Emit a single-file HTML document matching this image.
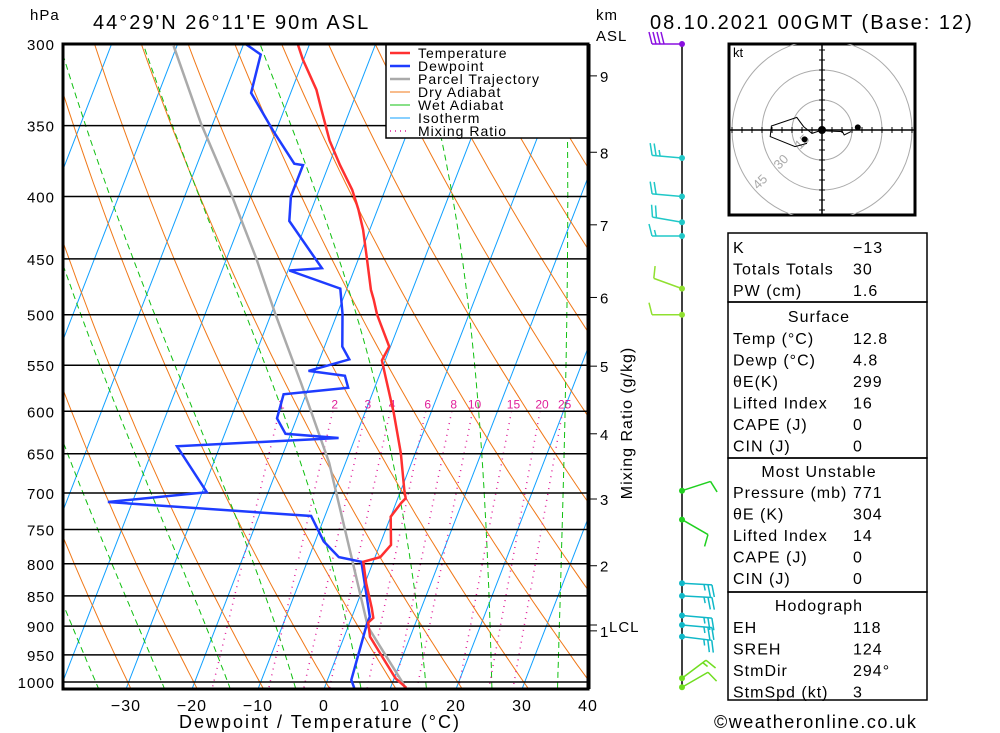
<!DOCTYPE html>
<html><head><meta charset="utf-8"><style>
html,body{margin:0;padding:0;background:#fff;}
svg{display:block;font-family:"Liberation Sans",sans-serif;}
text{fill:#000;}
</style></head><body>
<svg id="chart" width="1000" height="733" viewBox="0 0 1000 733" xmlns="http://www.w3.org/2000/svg">
<defs><clipPath id="plotclip"><rect x="63" y="44" width="525" height="645"/></clipPath>
<clipPath id="hodoclip"><rect x="729" y="44" width="186" height="171"/></clipPath></defs>
<g id="bg" clip-path="url(#plotclip)"></g>
<g id="grid"></g>
<g id="series" clip-path="url(#plotclip)"></g>
<g>
<rect x="386" y="44" width="202" height="94" fill="#fff" stroke="#000" stroke-width="1.5"/>
<line x1="390" y1="53" x2="410" y2="53" stroke="#ff3030" stroke-width="2.5"/><text x="418" y="58" font-size="14" letter-spacing="1">Temperature</text>
<line x1="390" y1="66" x2="410" y2="66" stroke="#1e3cff" stroke-width="2.5"/><text x="418" y="71" font-size="14" letter-spacing="1">Dewpoint</text>
<line x1="390" y1="79" x2="410" y2="79" stroke="#aaa" stroke-width="2.5"/><text x="418" y="84" font-size="14" letter-spacing="1">Parcel Trajectory</text>
<line x1="390" y1="92" x2="410" y2="92" stroke="#f07818" stroke-width="1"/><text x="418" y="97" font-size="14" letter-spacing="1">Dry Adiabat</text>
<line x1="390" y1="105" x2="410" y2="105" stroke="#10c010" stroke-width="1"/><text x="418" y="110" font-size="14" letter-spacing="1">Wet Adiabat</text>
<line x1="390" y1="118" x2="410" y2="118" stroke="#10a0ff" stroke-width="1"/><text x="418" y="123" font-size="14" letter-spacing="1">Isotherm</text>
<line x1="390" y1="131" x2="410" y2="131" stroke="#e0209a" stroke-width="1.5" stroke-dasharray="1,4"/><text x="418" y="136" font-size="14" letter-spacing="1">Mixing Ratio</text>
</g>
<rect x="63" y="44" width="525" height="645" fill="none" stroke="#000" stroke-width="3"/>
<text x="30" y="20" font-size="15" letter-spacing="1">hPa</text>
<text x="93" y="29" font-size="20" letter-spacing="2">44°29'N 26°11'E 90m ASL</text>
<text x="650" y="29" font-size="20" letter-spacing="2">08.10.2021 00GMT (Base: 12)</text>
<text x="596" y="20" font-size="15" letter-spacing="1">km</text>
<text x="596" y="41" font-size="15" letter-spacing="1">ASL</text>
<text x="320" y="728" font-size="18" letter-spacing="2" text-anchor="middle">Dewpoint / Temperature (°C)</text>
<text x="632" y="423" font-size="16" letter-spacing="1" text-anchor="middle" transform="rotate(-90 632 423)">Mixing Ratio (g/kg)</text>
<text x="714" y="728" font-size="18" letter-spacing="1.5">©weatheronline.co.uk</text>
<g id="km"></g>
<g id="wind"></g>
<g>
<rect x="729" y="44" width="186" height="171" fill="#fff" stroke="#000" stroke-width="3"/>
<g id="hodo" clip-path="url(#hodoclip)"></g>
<text x="733" y="57" font-size="13">kt</text>
</g>
<g id="tables"></g>
</svg>
<script>
// ---- data ----
var tempP = [300,309,327,340,360,377,395,410,426,449,477,486,500,531,545,562,602,649,696,707,713,732,772,790,797,830,870,886,894,918,953,993,1011];
var tempT = [-41.8,-40.1,-36.3,-34.3,-31.3,-28.3,-25.0,-22.9,-21.0,-18.8,-16.3,-15.3,-13.9,-10.2,-10.5,-9.0,-5.6,-2.2,0.5,1.2,0.8,0.0,1.7,0.8,-1.5,0.2,2.5,3.3,2.8,3.9,6.9,10.2,12.4];
var dewP = [300,306,329,354,376,377,400,419,458,460,476,499,531,544,556,561,574,581,608,626,631,641,699,712,731,767,790,797,884,898,996,1011];
var dewT = [-49.7,-46.8,-46.0,-40.3,-35.3,-33.9,-33.9,-32.7,-25.0,-29.8,-21.0,-19.2,-17.3,-15.5,-21.0,-15.2,-14.0,-23.4,-23.0,-20.8,-12.5,-36.5,-29.3,-43.7,-12.1,-8.7,-5.5,-1.8,2.7,2.7,3.6,4.5];
var parcelP = [301,348,400,449,499,569,661,799,901,1002,1011];
var parcelT = [-60.5,-51.9,-42.8,-35.6,-29.4,-21.4,-12.5,-3.0,3.0,11.6,12.2];
var pressureTicks = [300,350,400,450,500,550,600,650,700,750,800,850,900,950,1000];
var tempTicks = [-30,-20,-10,0,10,20,30,40];
var mixRatios = [1,2,3,4,6,8,10,15,20,25];
var kmLevels = [9,8,7,6,5,4,3,2,1];
var kmPres = [318.6,368,422,484,551,626,708,803,908];
var barbP = [300,372,400,420,431,476,500,697,736,830,850,882,898,918,993,1010];
var barbDir = [270,275,275,280,270,290,270,72,120,93,93,95,95,97,53,60];
var barbSpd = [40,25,20,20,15,10,10,10,10,25,25,25,25,25,15,10];
var hodoU = [14.5,11.1,10.2,2.6,0,-5,-9.2,-12.6,-25.3,-25.9,-13.5,-7.5];
var hodoV = [-0.8,-2.5,-0.8,-0.5,0,-1.7,1.7,6.3,2,-3.3,-8.3,-6.7];
var statLabels1 = ["K","Totals Totals","PW (cm)"];
var statValues1 = ["\u221213","30","1.6"];
var surfLabels = ["Temp (\u00b0C)","Dewp (\u00b0C)","\u03b8E(K)","Lifted Index","CAPE (J)","CIN (J)"];
var surfValues = ["12.8","4.8","299","16","0","0"];
var muLabels = ["Pressure (mb)","\u03b8E (K)","Lifted Index","CAPE (J)","CIN (J)"];
var muValues = ["771","304","14","0","0"];
var hodLabels = ["EH","SREH","StmDir","StmSpd (kt)"];
var hodValues = ["118","124","294\u00b0","3"];

// ---- scales ----
var NS = "http://www.w3.org/2000/svg";
function yP(p){ return 44 + 638*Math.log(p/300)/Math.log(1000/300); }
function xT(t,p){ return 324 + 6.6*t + 0.387*(689 - yP(p)); }
function mk(tag, attrs, parent){ var e=document.createElementNS(NS,tag); for(var k in attrs) e.setAttribute(k,attrs[k]); parent.appendChild(e); return e; }
function pathFrom(ps, ts){ var d=""; for(var i=0;i<ps.length;i++){ d+=(i?"L":"M")+xT(ts[i],ps[i]).toFixed(1)+","+yP(ps[i]).toFixed(1);} return d; }

var bg=document.getElementById("bg");
for (var t=-130;t<=40;t+=10){
  var l=mk("line",{x1:xT(t,1050),y1:yP(1050),x2:xT(t,280),y2:yP(280),stroke:"#10a0ff","stroke-width":1},bg);
  
  
}
for (var th=213; th<=493; th+=10){
  var d=""; for (var p=1050;p>=280;p-=10){ var T=th*Math.pow(p/1000,0.286)-273.15; d+=(p==1050?"M":"L")+xT(T,p).toFixed(1)+","+yP(p).toFixed(1);}
  var e=mk("path",{d:d,fill:"none",stroke:"#f07818","stroke-width":1},bg);
  
  
}
function es(tc){ return 6.112*Math.exp(17.67*tc/(tc+243.5)); }
function dTdp(tk,p){ var e=es(tk-273.15), rs=0.622*e/(p-e), Lv=2.5e6, Rd=287, cp=1005;
  return (Rd*tk+Lv*rs)/p/(cp+Lv*Lv*rs*0.622/(Rd*tk*tk)); }
for (var t0=-75;t0<=35;t0+=10){
  var pts=[]; var tk=t0+273.15;
  for (var p=1000;p>=280;p-=5){ pts.push([p,tk-273.15]); tk-=dTdp(tk,p)*5; }
  var tk2=t0+273.15, low=[];
  for (var p=1000;p<1050;p+=5){ tk2+=dTdp(tk2,p)*5; low.push([p+5,tk2-273.15]); }
  pts=low.reverse().concat(pts);
  var d=""; pts.forEach(function(q,i){ d+=(i?"L":"M")+xT(q[1],q[0]).toFixed(1)+","+yP(q[0]).toFixed(1); });
  var e=mk("path",{d:d,fill:"none",stroke:"#10c010","stroke-width":1,"stroke-dasharray":"6,4"},bg);
  
  
}
mixRatios.forEach(function(w){
  function td(p){ var e=w*p/(622+w); var a=Math.log(e/6.112); return 243.5*a/(17.67-a); }
  var e=mk("line",{x1:xT(td(600),600),y1:yP(600),x2:xT(td(1050),1050),y2:yP(1050),stroke:"#e0209a","stroke-width":1.5,"stroke-dasharray":"1,5"},bg);
  
  
  var tx=mk("text",{x:xT(td(600),600)+2,y:yP(600)-3,"font-size":12,"text-anchor":"middle",fill:"#e0209a",style:"fill:#e0209a"},bg);
  tx.textContent=w;
  
  
});
var grid=document.getElementById("grid");
pressureTicks.forEach(function(p){
  var l=mk("line",{x1:63,x2:588,y1:yP(p),y2:yP(p),stroke:"#000","stroke-width":1.5},grid);
  
  
  var tx=mk("text",{x:55,y:yP(p)+6,"font-size":15,"text-anchor":"end","letter-spacing":1},grid);
  tx.textContent=p;
  
  
});
tempTicks.forEach(function(t){
  var tx=mk("text",{x:324+6.6*t,y:711,"font-size":16,"text-anchor":"middle","letter-spacing":1},grid);
  tx.textContent=(t<0?"\u2212"+(-t):t);
  
  
});
var ser=document.getElementById("series");
var pp=mk("path",{d:pathFrom(parcelP,parcelT),fill:"none",stroke:"#aaa","stroke-width":2.5},ser);


var dp=mk("path",{d:pathFrom(dewP,dewT),fill:"none",stroke:"#1e3cff","stroke-width":2.5},ser);


var tp=mk("path",{d:pathFrom(tempP,tempT),fill:"none",stroke:"#ff3030","stroke-width":2.5},ser);


var km=document.getElementById("km");
mk("line",{x1:590,y1:44,x2:590,y2:689,stroke:"#000","stroke-width":1},km);
kmLevels.forEach(function(k,i){
  var y=yP(kmPres[i]);
  mk("line",{x1:590,x2:597,y1:y,y2:y,stroke:"#000"},km);
  var tx=mk("text",{x:600,y:y+6,"font-size":15},km);
  tx.textContent=k;
  
  
});
var lcl=mk("text",{x:609,y:yP(898)+7,"font-size":15,"letter-spacing":1},km);
lcl.textContent="LCL";


mk("line",{x1:590,x2:597,y1:yP(898),y2:yP(898),stroke:"#000"},km);
var wind=document.getElementById("wind");
mk("line",{x1:682,y1:44,x2:682,y2:690,stroke:"#000","stroke-width":1.5},wind);
function barbColor(p){ if(p<=320) return "#8a10e0"; if(p<=450) return "#20c8c8"; if(p<=600) return "#90e030"; if(p<=760) return "#20d020"; if(p<=950) return "#10b8c8"; return "#70dd20"; }
barbP.forEach(function(p,i){
  var y=yP(p), d=barbDir[i]*Math.PI/180, sx=Math.sin(d), sy=-Math.cos(d), px=-sy, py=sx, c=barbColor(p);
  var ex=682+sx*30, ey=y+sy*30;
  var g=mk("g",{},wind);
  
  
  mk("line",{x1:682,y1:y,x2:ex,y2:ey,stroke:c,"stroke-width":1.5},g);
  var s=barbSpd[i], pos=0;
  while(s>=10){ var bx=ex-sx*pos, by=ey-sy*pos; mk("line",{x1:bx,y1:by,x2:bx+px*12+sx*3,y2:by+py*12+sy*3,stroke:c,"stroke-width":1.5},g); pos+=4; s-=10; }
  if(s>=5){ var bx=ex-sx*pos, by=ey-sy*pos; mk("line",{x1:bx,y1:by,x2:bx+px*6+sx*1.5,y2:by+py*6+sy*1.5,stroke:c,"stroke-width":1.5},g); }
  mk("circle",{cx:682,cy:y,r:3,fill:c},g);
});
var hodo=document.getElementById("hodo"), cx=822, cy=130;
[30,60,90].forEach(function(r){ mk("circle",{cx:cx,cy:cy,r:r,fill:"none",stroke:"#aaa","stroke-width":1},hodo); });
mk("line",{x1:729,x2:915,y1:cy,y2:cy,stroke:"#000","stroke-width":1.5},hodo);
mk("line",{x1:cx,x2:cx,y1:44,y2:215,stroke:"#000","stroke-width":1.5},hodo);
for(var k=-90;k<=90;k+=10){ mk("line",{x1:cx+k,x2:cx+k,y1:cy-3,y2:cy+3,stroke:"#000"},hodo); mk("line",{x1:cx-3,x2:cx+3,y1:cy+k,y2:cy+k,stroke:"#000"},hodo); }
[["15",800,150],["30",779,170],["45",758,190]].forEach(function(a){ var t=mk("text",{x:a[1],y:a[2],"font-size":13,fill:"#aaa",style:"fill:#aaa",transform:"rotate(-45 "+a[1]+" "+a[2]+")"},hodo); t.textContent=a[0]; });
var hd=""; hodoU.forEach(function(u,i){ hd+=(i?"L":"M")+(cx+2*u)+","+(cy-2*hodoV[i]); });
var hp=mk("path",{d:hd,fill:"none",stroke:"#000","stroke-width":1},hodo);


mk("circle",{cx:cx,cy:cy,r:4,fill:"#000"},hodo);
mk("circle",{cx:cx+2*17.9,cy:cy-2*1.3,r:3,fill:"#000"},hodo);
mk("circle",{cx:cx-2*8.7,cy:cy+2*4.7,r:3,fill:"#000"},hodo);
var tb=document.getElementById("tables");
function box(y1,y2){ mk("rect",{x:728,y:y1,width:199,height:y2-y1,fill:"none",stroke:"#000","stroke-width":1.5},tb); }
function rows(labels,vals,y0){ labels.forEach(function(l,i){
  var a=mk("text",{x:733,y:y0+i*21.5,"font-size":16,"letter-spacing":1},tb); a.textContent=l;
   
  var b=mk("text",{x:853,y:y0+i*21.5,"font-size":16,"letter-spacing":1},tb); b.textContent=vals[i];
    }); }
function head(t,y){ var h=mk("text",{x:819,y:y,"font-size":16,"text-anchor":"middle","letter-spacing":1},tb); h.textContent=t;
    }
box(233,302); rows(statLabels1,statValues1,253);
box(302,458); head("Surface",322); rows(surfLabels,surfValues,344);
box(458,592); head("Most Unstable",477); rows(muLabels,muValues,498);
box(592,700); head("Hodograph",611); rows(hodLabels,hodValues,633);
</script>
</body></html>
